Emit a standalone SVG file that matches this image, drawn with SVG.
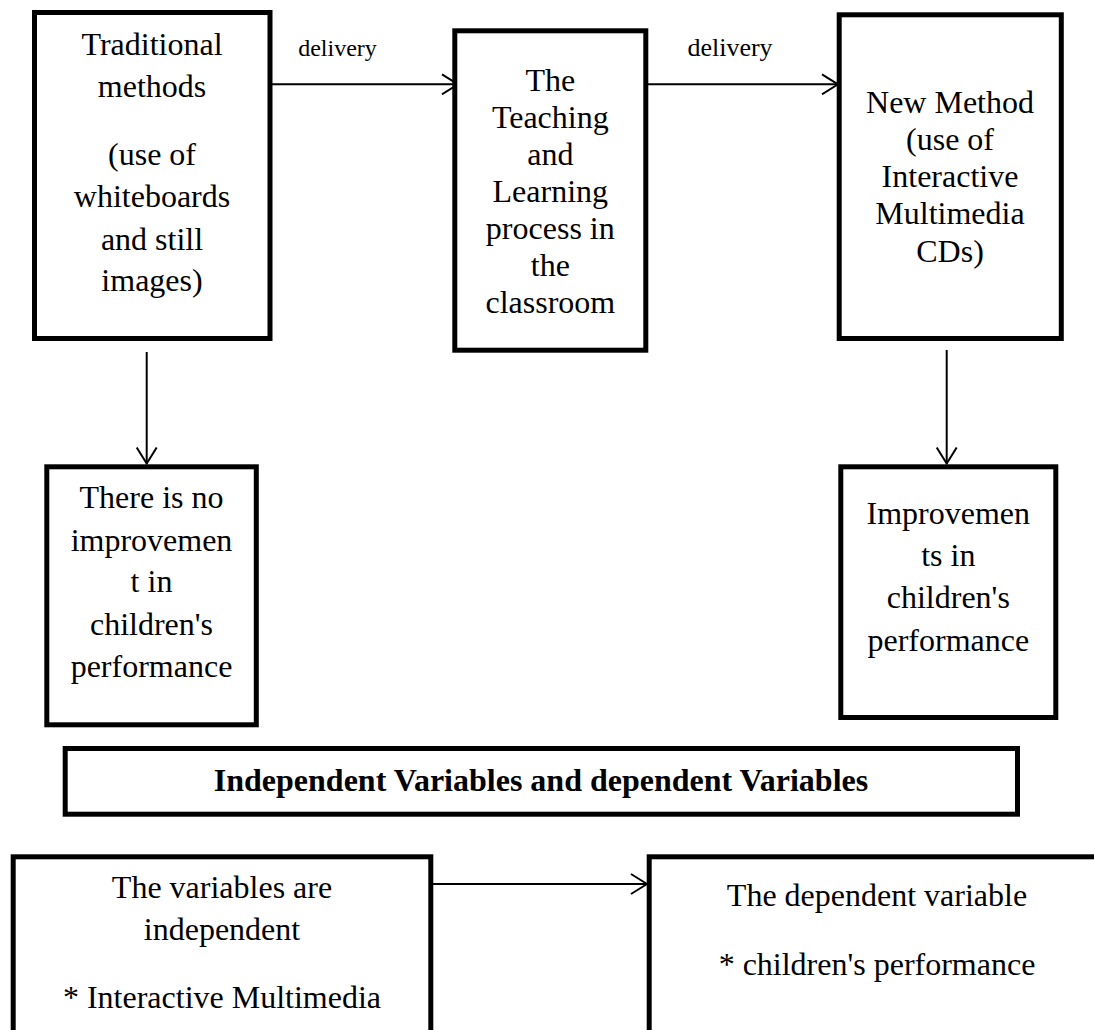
<svg xmlns="http://www.w3.org/2000/svg" width="1094" height="1030" viewBox="0 0 1094 1030">
<style>
.box{fill:#fff;stroke:#000;stroke-width:5}
.t{font-family:"Liberation Serif","Times New Roman",serif;font-size:32px;fill:#000;text-anchor:middle}
.b{font-weight:bold}
.lbl{font-family:"Liberation Serif","Times New Roman",serif;fill:#000;text-anchor:middle}
.con{stroke:#000;stroke-width:2;fill:none}
</style>
<defs>
<marker id="arr" markerUnits="userSpaceOnUse" viewBox="0 0 18 22" refX="17" refY="11" markerWidth="18" markerHeight="22" orient="auto">
<path d="M1,1 L17,11 L1,21" fill="none" stroke="#000" stroke-width="2"/>
</marker>
</defs>
<rect width="1094" height="1030" fill="#fff"/>
<g id="connectors">
<line class="con" x1="272" y1="84.3" x2="458" y2="84.3" marker-end="url(#arr)"/>
<line class="con" x1="648" y1="84.3" x2="838" y2="84.3" marker-end="url(#arr)"/>
<line class="con" x1="146.7" y1="352" x2="146.7" y2="463.5" marker-end="url(#arr)"/>
<line class="con" x1="946.7" y1="350" x2="946.7" y2="463.5" marker-end="url(#arr)"/>
<line class="con" x1="433" y1="884" x2="647" y2="884" marker-end="url(#arr)"/>
<text class="lbl" x="337.5" y="56" font-size="24">delivery</text>
<text class="lbl" x="730" y="56" font-size="26">delivery</text>
</g>
<g id="traditional">
<rect class="box" x="34.5" y="12.5" width="235.5" height="326"/>
<text class="t" x="152" y="54.5">Traditional</text>
<text class="t" x="152" y="96.5">methods</text>
<text class="t" x="152" y="165">(use of</text>
<text class="t" x="152" y="207.3">whiteboards</text>
<text class="t" x="152" y="250">and still</text>
<text class="t" x="152" y="291">images)</text>
</g>
<g id="teaching">
<rect class="box" x="454.8" y="30.8" width="191" height="319.4"/>
<text class="t" x="550.3" y="90.7">The</text>
<text class="t" x="550.3" y="128">Teaching</text>
<text class="t" x="550.3" y="165">and</text>
<text class="t" x="550.3" y="202.3">Learning</text>
<text class="t" x="550.3" y="239.3">process in</text>
<text class="t" x="550.3" y="276">the</text>
<text class="t" x="550.3" y="313.3">classroom</text>
</g>
<g id="newmethod">
<rect class="box" x="839.2" y="14.8" width="222.1" height="323.7"/>
<text class="t" x="950" y="113">New Method</text>
<text class="t" x="950" y="150">(use of</text>
<text class="t" x="950" y="187">Interactive</text>
<text class="t" x="950" y="224">Multimedia</text>
<text class="t" x="950" y="262">CDs)</text>
</g>
<g id="noimprovement">
<rect class="box" x="46.8" y="466.8" width="209.5" height="258"/>
<text class="t" x="151.5" y="508.3">There is no</text>
<text class="t" x="151.5" y="550.7">improvemen</text>
<text class="t" x="151.5" y="592.3">t in</text>
<text class="t" x="151.5" y="635">children's</text>
<text class="t" x="151.5" y="677.3">performance</text>
</g>
<g id="improvements">
<rect class="box" x="840.8" y="466.8" width="215" height="250.7"/>
<text class="t" x="948.3" y="524">Improvemen</text>
<text class="t" x="948.3" y="565.7">ts in</text>
<text class="t" x="948.3" y="608.3">children's</text>
<text class="t" x="948.3" y="650.7">performance</text>
</g>
<g id="title">
<rect class="box" x="65.2" y="748.5" width="952.3" height="65.7"/>
<text class="t b" x="541" y="791">Independent Variables and dependent Variables</text>
</g>
<g id="independent">
<rect class="box" x="13.2" y="856.8" width="417.6" height="200"/>
<text class="t" x="222" y="898.3">The variables are</text>
<text class="t" x="222" y="940">independent</text>
<text class="t" x="222" y="1008.3">* Interactive Multimedia</text>
</g>
<g id="dependent">
<rect class="box" x="649.2" y="856.8" width="480" height="200"/>
<text class="t" x="877" y="905.7">The dependent variable</text>
<text class="t" x="877" y="975">* children's performance</text>
</g>
</svg>
